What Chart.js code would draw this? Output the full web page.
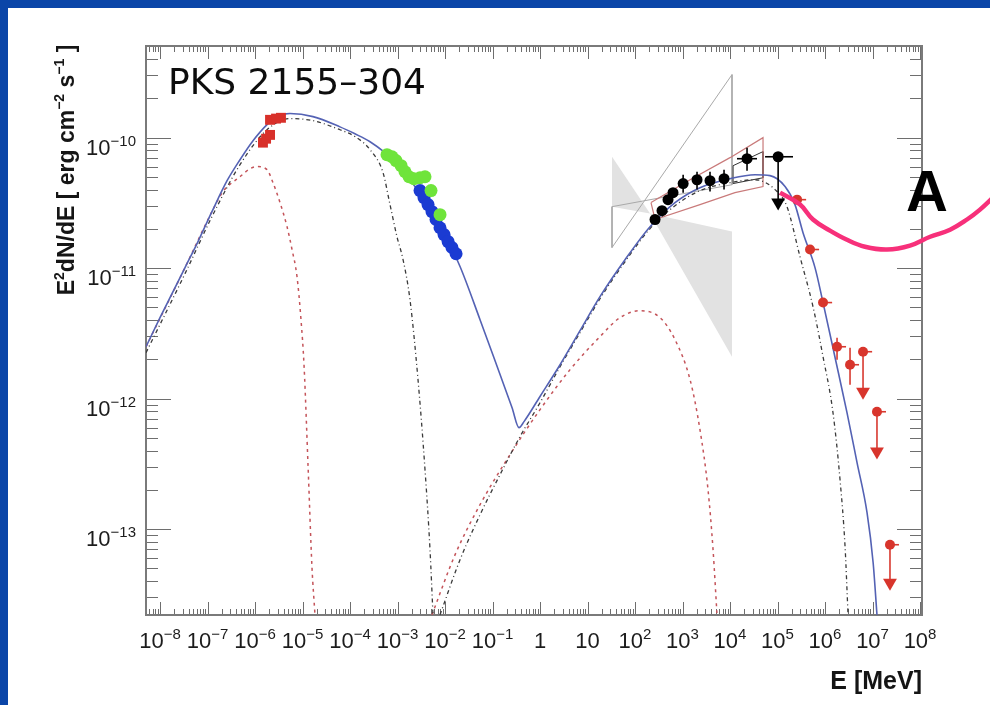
<!DOCTYPE html>
<html>
<head>
<meta charset="utf-8">
<script src="https://cdn.jsdelivr.net/npm/chart.js@4.4.1/dist/chart.umd.min.js"></script>
<style>
  html, body { margin: 0; padding: 0; background: #fff; overflow: hidden; }
  canvas { display: block; }
</style>
</head>
<body>
<canvas id="sed" width="990" height="705"></canvas>
<script>
// axis ranges: E in MeV, flux in erg cm^-2 s^-1
const xMin = 5.07e-9, xMax = 1.10e8;
const yMin = 2.2e-14, yMax = 5.04e-10;
const xTickExps = [-8, -7, -6, -5, -4, -3, -2, -1, 0, 1, 2, 3, 4, 5, 6, 7, 8];
const yTickExps = [-10, -11, -12, -13];

// total model (solid blue)
const totalE = [5.07e-9, 1e-8, 1.88e-8, 3.36e-8, 6.31e-8, 1.24e-7, 2.58e-7, 4.83e-7, 9.08e-7, 1.79e-6, 2.90e-6, 5.46e-6,
  1.66e-5, 6.15e-5, 1.27e-4, 2.64e-4, 5.46e-4, 8.85e-4, 2.33e-3, 7.85e-3, 2.07e-2, 5.46e-2, 0.144, 0.258, 0.361, 0.460,
  1, 2.64, 6.95, 18.3, 61.5, 207, 695, 2330, 1e4, 3.36e4, 6.95e4, 1.44e5, 2.33e5, 3.44e5, 6.15e5, 9.08e5, 1.63e6,
  2.90e6, 4.72e6, 7.66e6, 1.03e7, 1.24e7];
const totalF = [2.50e-12, 4.18e-12, 6.61e-12, 1.01e-11, 1.60e-11, 2.71e-11, 4.68e-11, 6.78e-11, 9.48e-11, 1.26e-10, 1.45e-10, 1.53e-10,
  1.45e-10, 1.21e-10, 1.07e-10, 9.31e-11, 7.67e-11, 6.55e-11, 4.22e-11, 2.15e-11, 1.03e-11, 4.03e-12, 1.53e-12, 8.53e-13, 6.00e-13, 6.67e-13,
  1.04e-12, 1.82e-12, 3.32e-12, 6.05e-12, 1.16e-11, 2.08e-11, 3.18e-11, 4.14e-11, 4.85e-11, 5.20e-11, 5.12e-11, 4.22e-11, 3.07e-11, 1.87e-11, 1.01e-11, 5.45e-12, 2.06e-12,
  7.82e-13, 3.24e-13, 1.34e-13, 5.53e-14, 2.21e-14];

// synchrotron components
const synRedE = [5.07e-9, 3.36e-8, 1.24e-7, 2.12e-7, 4.83e-7, 7.85e-7, 1.10e-6, 1.79e-6, 2.39e-6, 3.36e-6, 4.72e-6, 6.01e-6, 7.66e-6, 9.29e-6, 1.08e-5, 1.31e-5, 1.58e-5, 1.83e-5];
const synRedF = [2.50e-12, 1.01e-11, 2.71e-11, 3.86e-11, 5.02e-11, 5.78e-11, 6.00e-11, 5.69e-11, 4.52e-11, 3.18e-11, 2.08e-11, 1.39e-11, 8.61e-12, 4.03e-12, 1.76e-12, 3.01e-13, 5.16e-14, 2.21e-14];
const synBlkE = [5.07e-9, 3.36e-8, 1.24e-7, 4.83e-7, 1.79e-6, 5.46e-6, 1.66e-5, 6.15e-5, 1.27e-4, 2.64e-4, 4.95e-4, 6.95e-4, 9.75e-4, 1.31e-3, 1.83e-3, 2.70e-3, 3.79e-3, 4.83e-3, 5.58e-3];
const synBlkF = [2.25e-12, 9.08e-12, 2.48e-11, 6.21e-11, 1.15e-10, 1.40e-10, 1.35e-10, 1.15e-10, 1.02e-10, 8.09e-11, 5.40e-11, 3.07e-11, 1.74e-11, 1.16e-11, 5.74e-12, 1.40e-12, 2.86e-13, 6.97e-14, 2.21e-14];

// inverse Compton components
const icRedE = [5.32e-3, 1.63e-2, 5.46e-2, 0.233, 1, 4.29, 18.3, 48.3, 127, 336, 695, 1440, 2330, 3440, 4390, 5320];
const icRedF = [2.21e-14, 6.38e-14, 1.54e-13, 3.72e-13, 8.24e-13, 1.67e-12, 2.99e-12, 4.18e-12, 4.72e-12, 4.18e-12, 2.83e-12, 1.40e-12, 5.78e-13, 2.01e-13, 6.97e-14, 2.21e-14];
const icBlkE = [7.85e-3, 2.07e-2, 5.46e-2, 0.144, 0.379, 1, 2.64, 6.95, 18.3, 61.5, 207, 695, 2330, 1e4, 3.36e4, 8.85e4, 1.58e5, 2.98e5, 5.58e5, 9.08e5, 1.47e6, 2.07e6, 2.64e6, 3.05e6];
const icBlkF = [2.21e-14, 5.83e-14, 1.29e-13, 2.62e-13, 5.12e-13, 9.31e-13, 1.76e-12, 3.21e-12, 5.83e-12, 1.12e-11, 2.01e-11, 3.01e-11, 3.93e-11, 4.52e-11, 4.76e-11, 4.00e-11, 2.96e-11, 1.22e-11, 5.07e-12, 2.10e-12, 7.82e-13, 2.39e-13, 7.35e-14, 2.21e-14];

// optical (red squares), UV (green), X-ray (blue)
const optE = [2.07e-6, 2.77e-6, 3.52e-6, 1.47e-6, 1.71e-6, 2.07e-6];
const optF = [1.37e-10, 1.40e-10, 1.42e-10, 9.16e-11, 9.82e-11, 1.05e-10];
const uvE = [6.01e-4, 7.66e-4, 9.29e-4, 1.19e-3, 1.44e-3, 1.75e-3, 2.22e-3, 2.98e-3, 3.79e-3, 5.07e-3, 7.85e-3];
const uvF = [7.41e-11, 7.14e-11, 6.67e-11, 6.10e-11, 5.48e-11, 5.02e-11, 4.85e-11, 4.93e-11, 5.02e-11, 3.93e-11, 2.57e-11];
const xrayE = [2.98e-3, 3.61e-3, 4.39e-3, 5.32e-3, 6.47e-3, 7.85e-3, 9.53e-3, 1.16e-2, 1.40e-2, 1.71e-2];
const xrayF = [3.93e-11, 3.47e-11, 3.07e-11, 2.71e-11, 2.36e-11, 2.04e-11, 1.81e-11, 1.60e-11, 1.44e-11, 1.29e-11];

// GeV points (black)
const latE = [264, 370, 495, 631, 1030, 2020, 3790, 7480, 2.28e4, 1.03e5];
const latF = [2.36e-11, 2.76e-11, 3.35e-11, 3.79e-11, 4.45e-11, 4.76e-11, 4.68e-11, 4.85e-11, 6.90e-11, 7.14e-11];
const latErrE = [1030, 2020, 3790, 7480, 2.28e4];
const latErrLo = [3.79e-11, 4.00e-11, 3.86e-11, 4.00e-11, 5.58e-11];
const latErrHi = [5.20e-11, 5.48e-11, 5.48e-11, 5.69e-11, 8.38e-11];
const latXbarF = [6.90e-11, 7.14e-11];
const latXbarLo = [1.40e4, 5.46e4];
const latXbarHi = [3.70e4, 2.12e5];
const latUlE = [1.03e5];
const latUlFrom = [7.14e-11];
const latUlTo = [3.35e-11];
const latUlTip = [3.18e-11];

// TeV points (red)
const tevE = [2.58e5, 4.83e5, 9.08e5, 1.79e6, 3.36e6, 6.31e6, 1.24e7, 2.33e7];
const tevF = [3.35e-11, 1.39e-11, 5.45e-12, 2.50e-12, 1.82e-12, 2.29e-12, 7.94e-13, 7.60e-14];
const tevXbarHi = [4.0e5, 7.5e5, 1.41e6, 2.77e6, 5.2e6, 9.8e6, 1.92e7, 3.6e7];
const tevErrE = [1.79e6, 3.36e6];
const tevErrLo = [1.99e-12, 1.28e-12];
const tevErrHi = [2.93e-12, 2.46e-12];
const tevUlE = [6.31e6, 1.24e7, 2.33e7];
const tevUlTo = [1.04e-12, 3.60e-13, 3.56e-14];
const tevUlTip = [1.13e-12, 3.93e-13, 3.89e-14];

// bow-ties
const shadeLeftE = [32.8, 207, 32.8];
const shadeLeftF = [7.14e-11, 2.62e-11, 2.96e-11];
const shadeRightE = [207, 1.10e4, 1.10e4];
const shadeRightF = [2.62e-11, 1.91e-11, 2.10e-12];
const grayBowE = [32.8, 32.8, 1.10e4, 1.10e4, 32.8];
const grayBowF = [2.96e-11, 1.44e-11, 3.04e-10, 4.36e-11, 2.96e-11];
const redBowE = [217, 1440, 1e4, 4.95e4, 4.95e4, 1.27e4, 2330, 264, 217];
const redBowF = [3.18e-11, 4.76e-11, 7.03e-11, 1e-10, 4.22e-11, 3.79e-11, 3.07e-11, 2.36e-11, 3.18e-11];
const blackBowE = [1.16e4, 4.95e4, 4.95e4, 1.16e4, 1.16e4];
const blackBowF = [6.10e-11, 7.82e-11, 4.93e-11, 4.45e-11, 6.10e-11];

// annotation curve "A"
const markE = [1.13e5, 2.98e5, 5.58e5, 1.27e6, 2.90e6, 6.95e6, 2.02e7, 6.15e7, 1.63e8, 4.29e8, 9.75e8, 1.83e9, 3.79e9];
const markF = [3.79e-11, 3.07e-11, 2.36e-11, 1.94e-11, 1.65e-11, 1.46e-11, 1.39e-11, 1.49e-11, 1.74e-11, 1.97e-11, 2.36e-11, 2.81e-11, 3.60e-11];

const pts = (xs, ys) => xs.map((x, i) => ({ x: x, y: ys[i] }));

function curve(xs, ys, color, width, dash, order) {
  return {
    data: pts(xs, ys), showLine: true, borderColor: color, borderWidth: width,
    borderDash: dash || [], pointRadius: 0, cubicInterpolationMode: 'monotone', fill: false, order: order
  };
}
function outline(xs, ys, color, width, order) {
  return { data: pts(xs, ys), showLine: true, borderColor: color, borderWidth: width, pointRadius: 0, tension: 0, fill: false, order: order };
}
function shade(xs, ys, color) {
  return { data: pts(xs, ys), showLine: true, borderWidth: 0, borderColor: color, backgroundColor: color, pointRadius: 0, fill: 'shape', order: 20 };
}
function markers(xs, ys, color, radius, style, order, rot) {
  return {
    data: pts(xs, ys), showLine: false, pointRadius: radius, pointStyle: style, pointRotation: rot || 0,
    backgroundColor: color, borderColor: color, borderWidth: 0, order: order
  };
}
function segments(list, color, width, order) {
  // each entry: [x1, y1, x2, y2]
  return list.map(s => ({
    data: [{ x: s[0], y: s[1] }, { x: s[2], y: s[3] }], showLine: true, borderColor: color,
    borderWidth: width, pointRadius: 0, order: order
  }));
}

const latBars = [
  ...latErrE.map((e, i) => [e, latErrLo[i], e, latErrHi[i]]),
  ...latXbarF.map((f, i) => [latXbarLo[i], f, latXbarHi[i], f]),
  ...latUlE.map((e, i) => [e, latUlFrom[i], e, latUlTo[i]])
];
const tevBars = [
  ...tevE.map((e, i) => [e, tevF[i], tevXbarHi[i], tevF[i]]),
  ...tevErrE.map((e, i) => [e, tevErrLo[i], e, tevErrHi[i]]),
  ...tevUlE.map((e, i) => [e, tevF[5 + i], e, tevUlTo[i]])
];

// the annotation runs past the frame: reversed order so Chart.js keeps every point
const markLine = {
  data: pts(markE, markF).reverse(), showLine: true, borderColor: '#f7307a', borderWidth: 4.5,
  pointRadius: 0, tension: 0.4, fill: false, clip: false, order: 0
};

const datasets = [
  shade(shadeLeftE, shadeLeftF, '#e2e2e2'),
  shade(shadeRightE, shadeRightF, '#e2e2e2'),
  outline(grayBowE, grayBowF, '#a9a9a9', 1, 15),
  outline(redBowE, redBowF, '#c97a7a', 1.2, 14),
  outline(blackBowE, blackBowF, '#333333', 1, 14),
  curve(synRedE, synRedF, '#c4545a', 1.5, [3, 4], 12),
  curve(icRedE, icRedF, '#c4545a', 1.5, [3, 4], 12),
  curve(synBlkE, synBlkF, '#3a3a3a', 1.3, [4, 3, 1, 3], 11),
  curve(icBlkE, icBlkF, '#3a3a3a', 1.3, [4, 3, 1, 3], 11),
  curve(totalE, totalF, '#5462b4', 1.6, null, 10),
  markers(optE, optF, '#d8302a', 7, 'rect', 5),
  markers(xrayE, xrayF, '#1b3bd2', 6.5, 'circle', 6),
  markers(uvE, uvF, '#6fe43b', 6.5, 'circle', 5),
  ...segments(latBars, '#000000', 1.6, 4),
  markers(latE, latF, '#000000', 5.5, 'circle', 3),
  markers(latUlE, latUlTip, '#000000', 8, 'triangle', 3, 180),
  ...segments(tevBars, '#d83a30', 1.6, 4),
  markers(tevE, tevF, '#d8352c', 5, 'circle', 3),
  markers(tevUlE, tevUlTip, '#d8352c', 8, 'triangle', 3, 180),
  markLine
];

const baseFont = '22px "Liberation Sans", Arial, sans-serif';
const supFont = '15px "Liberation Sans", Arial, sans-serif';

function drawParts(ctx, parts, x, baseY, align, fBase, fSup, rise) {
  let w = 0;
  const ws = parts.map(p => { ctx.font = p[1] ? fSup : fBase; const m = ctx.measureText(p[0]).width; w += m; return m; });
  let cx = align === 'center' ? x - w / 2 : (align === 'right' ? x - w : x);
  ctx.textAlign = 'left';
  ctx.textBaseline = 'alphabetic';
  parts.forEach((p, i) => {
    ctx.font = p[1] ? fSup : fBase;
    ctx.fillText(p[0], cx, p[1] ? baseY - rise : baseY);
    cx += ws[i];
  });
}
const expText = e => String(e).replace('-', '\u2212');
const powParts = e => e === 0 ? [['1', 0]] : (e === 1 ? [['10', 0]] : [['10', 0], [expText(e), 1]]);

const sedFrame = {
  id: 'sedFrame',
  beforeDraw(chart) {
    const ctx = chart.ctx;
    ctx.save();
    ctx.fillStyle = '#ffffff';
    ctx.fillRect(0, 0, chart.width, chart.height);
    ctx.fillStyle = '#0a45a8';
    ctx.fillRect(0, 0, chart.width, 8);
    ctx.fillRect(0, 0, 8, chart.height);
    ctx.restore();
  },
  beforeDatasetsDraw(chart) {
    const { ctx, chartArea: a, scales: { x, y } } = chart;
    ctx.save();
    ctx.strokeStyle = '#6e6e6e';
    ctx.lineWidth = 1;
    ctx.beginPath();
    for (let k = Math.floor(Math.log10(xMin)); k <= Math.ceil(Math.log10(xMax)); k++) {
      for (let m = 1; m < 10; m++) {
        const v = m * Math.pow(10, k);
        if (v < xMin || v > xMax) continue;
        const px = Math.round(x.getPixelForValue(v)) + 0.5;
        const len = m === 1 ? 13 : 6;
        ctx.moveTo(px, a.bottom); ctx.lineTo(px, a.bottom - len);
        ctx.moveTo(px, a.top); ctx.lineTo(px, a.top + len);
      }
    }
    for (let k = Math.floor(Math.log10(yMin)); k <= Math.ceil(Math.log10(yMax)); k++) {
      for (let m = 1; m < 10; m++) {
        const v = m * Math.pow(10, k);
        if (v < yMin || v > yMax) continue;
        const py = Math.round(y.getPixelForValue(v)) + 0.5;
        const len = m === 1 ? 25 : 12;
        ctx.moveTo(a.left, py); ctx.lineTo(a.left + len, py);
        ctx.moveTo(a.right, py); ctx.lineTo(a.right - len, py);
      }
    }
    ctx.stroke();
    ctx.strokeStyle = '#7a7a7a';
    ctx.lineWidth = 2;
    ctx.strokeRect(a.left, a.top, a.right - a.left, a.bottom - a.top);
    ctx.restore();
  },
  afterDraw(chart) {
    const { ctx, chartArea: a, scales: { x, y } } = chart;
    ctx.save();
    ctx.fillStyle = '#1c1c1c';
    xTickExps.forEach(e => {
      drawParts(ctx, powParts(e), x.getPixelForValue(Math.pow(10, e)), a.bottom + 33, 'center', baseFont, supFont, 9);
    });
    yTickExps.forEach(e => {
      const py = y.getPixelForValue(Math.pow(10, e));
      drawParts(ctx, powParts(e), 136, py + 17, 'right', baseFont, supFont, 9);
    });
    // axis titles
    ctx.fillStyle = '#151515';
    ctx.font = 'bold 25px "Liberation Sans", Arial, sans-serif';
    ctx.textAlign = 'right';
    ctx.fillText('E [MeV]', a.right, 689);
    ctx.translate(74, 170);
    ctx.rotate(-Math.PI / 2);
    drawParts(ctx, [['E', 0], ['2', 1], ['dN/dE [ erg cm', 0], ['\u22122', 1], [' s', 0], ['\u22121', 1], [' ]', 0]],
      0, 0, 'center', 'bold 23px "Liberation Sans", Arial, sans-serif', 'bold 14px "Liberation Sans", Arial, sans-serif', 10);
    ctx.restore();

    ctx.save();
    ctx.fillStyle = '#0d0d0d';
    ctx.font = '36px "DejaVu Sans", sans-serif';
    ctx.textAlign = 'left';
    ctx.textBaseline = 'alphabetic';
    ctx.fillText('PKS 2155\u2013304', 168, 94);
    ctx.font = 'bold 58px "Liberation Sans", Arial, sans-serif';
    ctx.textAlign = 'center';
    ctx.fillStyle = '#000000';
    ctx.fillText('A', 927, 211);
    ctx.restore();
  }
};

new Chart(document.getElementById('sed'), {
  type: 'scatter',
  data: { datasets: datasets },
  options: {
    responsive: false,
    animation: false,
    devicePixelRatio: 1,
    layout: { padding: { left: 146, right: 68, top: 46, bottom: 90 } },
    plugins: { legend: { display: false }, tooltip: { enabled: false } },
    scales: {
      x: { type: 'logarithmic', min: xMin, max: xMax, display: false },
      y: { type: 'logarithmic', min: yMin, max: yMax, display: false }
    }
  },
  plugins: [sedFrame]
});
</script>
</body>
</html>
